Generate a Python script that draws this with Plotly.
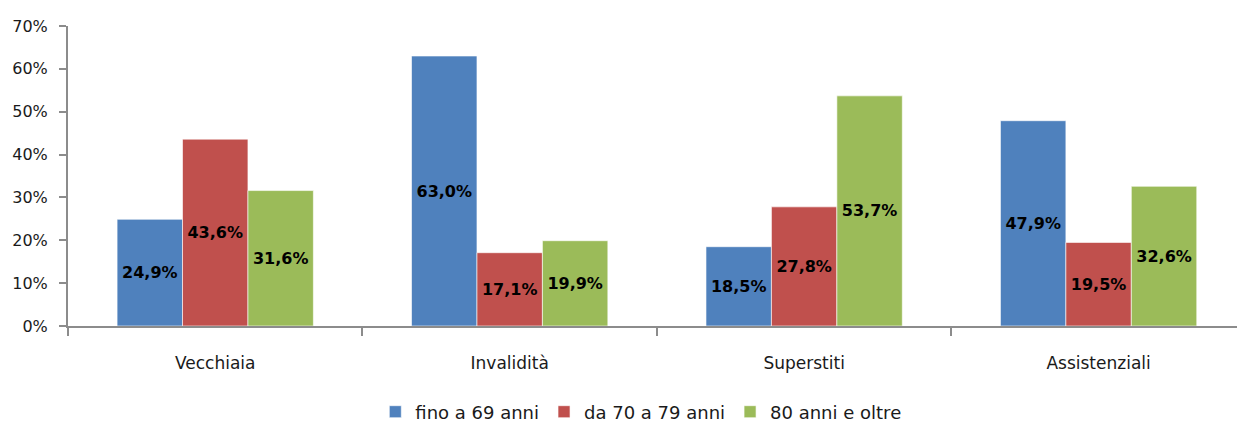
import plotly.graph_objects as go

categories = ["Vecchiaia", "Invalidità", "Superstiti", "Assistenziali"]
series_names = ["fino a 69 anni", "da 70 a 79 anni", "80 anni e oltre"]
fino_69 = [24.9, 63.0, 18.5, 47.9]
da_70_79 = [43.6, 17.1, 27.8, 19.5]
oltre_80 = [31.6, 19.9, 53.7, 32.6]
y_ticks = [0, 10, 20, 30, 40, 50, 60, 70]
y_tick_labels = [f"{v}%" for v in y_ticks]

colors = ["#4F81BD", "#C0504D", "#9BBB59"]
font_family = "DejaVu Sans"
text_color = "#1a1a1a"

fig = go.Figure()
for name, vals, col in zip(series_names, [fino_69, da_70_79, oltre_80], colors):
    fig.add_trace(go.Bar(
        x=categories, y=vals, name=name,
        marker=dict(color=col, line=dict(color="rgba(255,255,255,0.6)", width=1)),
        texttemplate="%{y:.1f}%", textposition="inside", insidetextanchor="middle",
        textangle=0,
        textfont=dict(family=font_family, size=16, color="black", weight="bold"),
        cliponaxis=False,
    ))

fig.update_layout(
    width=1237, height=423,
    margin=dict(l=68, r=0, t=26, b=97, autoexpand=False),
    paper_bgcolor="white", plot_bgcolor="white",
    barmode="group", bargap=1/3, bargroupgap=0,
    separators=",.",
    font=dict(family=font_family, size=16, color=text_color),
    showlegend=True,
    legend=dict(orientation="h", x=0.49, xanchor="center",
                yref="container", y=0.026, yanchor="middle",
                font=dict(family=font_family, size=18, color=text_color),
                itemwidth=30, traceorder="normal"),
    xaxis=dict(
        # the last category runs slightly past the right edge of the page
        range=[-0.5, 3.47],
        showline=True, linecolor="#8c8c8c", linewidth=2,
        ticks="outside", tickson="boundaries", ticklen=8, tickcolor="#8c8c8c", tickwidth=2,
        tickfont=dict(family=font_family, size=17, color=text_color),
        ticklabelstandoff=21,
        showgrid=False, zeroline=False, fixedrange=True,
    ),
    yaxis=dict(
        range=[0, 70], tickvals=y_ticks, ticktext=y_tick_labels,
        showline=True, linecolor="#8c8c8c", linewidth=2,
        ticks="outside", ticklen=7, tickcolor="#8c8c8c", tickwidth=2,
        tickfont=dict(family=font_family, size=16, color=text_color),
        ticklabelstandoff=8,
        showgrid=False, zeroline=False, fixedrange=True,
    ),
)

fig.write_html("out.html")
